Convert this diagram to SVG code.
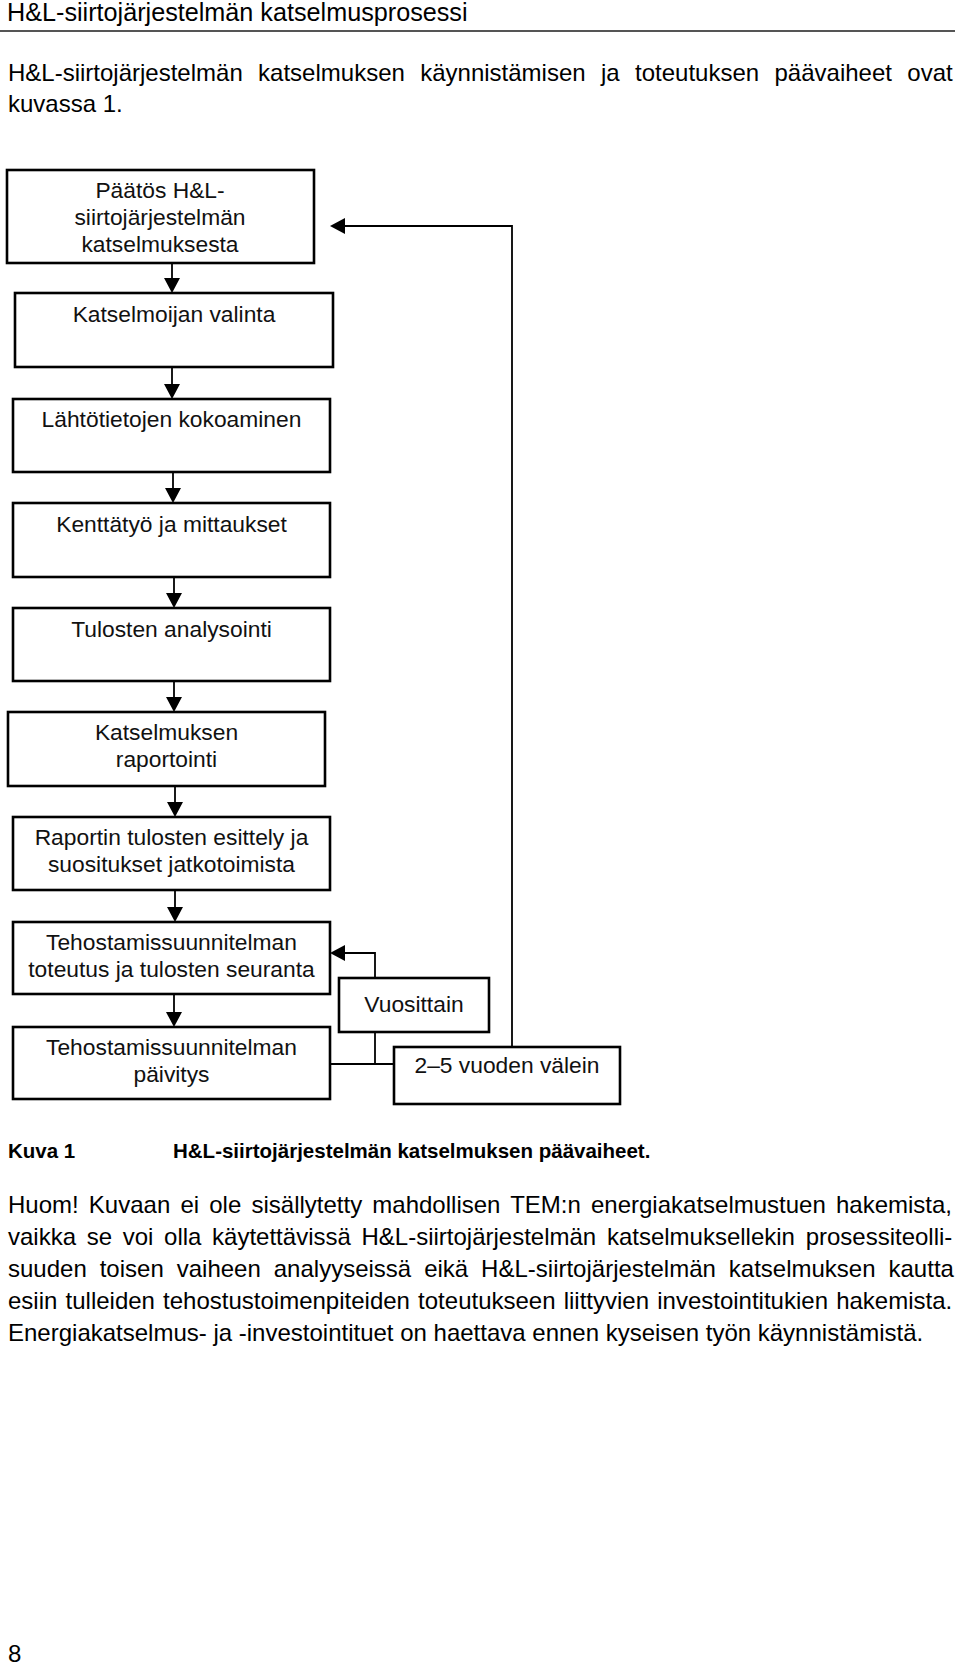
<svg xmlns="http://www.w3.org/2000/svg" width="960" height="1668" viewBox="0 0 960 1668">
<style>
  text { font-family: "Liberation Sans", Arial, sans-serif; fill: #000; }
  .title { font-size: 25.2px; }
  .para { font-size: 24px; }
  .box { fill: #fff; stroke: #000; stroke-width: 2.6; }
  .lbl { font-size: 22.8px; text-anchor: middle; fill: #111; }
  .cap { font-size: 20.5px; font-weight: bold; }
  .conn { fill: none; stroke: #000; stroke-width: 1.8; }
</style>
<defs>
  <marker id="ah" markerUnits="userSpaceOnUse" markerWidth="15" markerHeight="16" viewBox="0 0 15 16" refX="13" refY="8" orient="auto">
    <path d="M0,0 L15,8 L0,16 z" fill="#000"/>
  </marker>
</defs>
<rect width="960" height="1668" fill="#fff"/>

<text class="title" x="7" y="21">H&amp;L-siirtojärjestelmän katselmusprosessi</text>
<line x1="0" y1="31" x2="955" y2="31" stroke="#555" stroke-width="2"/>

<text class="para" x="8" y="81" word-spacing="8.7">H&amp;L-siirtojärjestelmän katselmuksen käynnistämisen ja toteutuksen päävaiheet ovat</text>
<text class="para" x="8" y="112">kuvassa 1.</text>

<g id="n1"><rect class="box" x="7" y="170" width="307" height="93"/>
<text class="lbl" x="160" y="198">Päätös H&amp;L-</text>
<text class="lbl" x="160" y="225">siirtojärjestelmän</text>
<text class="lbl" x="160" y="252">katselmuksesta</text></g>

<g id="n2"><rect class="box" x="15" y="293" width="318" height="74"/>
<text class="lbl" x="174" y="322">Katselmoijan valinta</text></g>

<g id="n3"><rect class="box" x="13" y="399" width="317" height="73"/>
<text class="lbl" x="171.5" y="427">Lähtötietojen kokoaminen</text></g>

<g id="n4"><rect class="box" x="13" y="503" width="317" height="74"/>
<text class="lbl" x="171.5" y="532">Kenttätyö ja mittaukset</text></g>

<g id="n5"><rect class="box" x="13" y="608" width="317" height="73"/>
<text class="lbl" x="171.5" y="637">Tulosten analysointi</text></g>

<g id="n6"><rect class="box" x="8" y="712" width="317" height="74"/>
<text class="lbl" x="166.5" y="740">Katselmuksen</text>
<text class="lbl" x="166.5" y="767">raportointi</text></g>

<g id="n7"><rect class="box" x="13" y="817" width="317" height="73"/>
<text class="lbl" x="171.5" y="845">Raportin tulosten esittely ja</text>
<text class="lbl" x="171.5" y="872">suositukset jatkotoimista</text></g>

<g id="n8"><rect class="box" x="13" y="922" width="317" height="72"/>
<text class="lbl" x="171.5" y="950">Tehostamissuunnitelman</text>
<text class="lbl" x="171.5" y="977">toteutus ja tulosten seuranta</text></g>

<g id="n9"><rect class="box" x="13" y="1027" width="317" height="72"/>
<text class="lbl" x="171.5" y="1055">Tehostamissuunnitelman</text>
<text class="lbl" x="171.5" y="1082">päivitys</text></g>

<g id="n10"><rect class="box" x="339" y="978" width="150" height="54"/>
<text class="lbl" x="414" y="1012">Vuosittain</text></g>

<g id="n11"><rect class="box" x="394" y="1047" width="226" height="57"/>
<text class="lbl" x="507" y="1073">2–5 vuoden välein</text></g>

<g id="connectors">
  <path class="conn" d="M172,263 V291" marker-end="url(#ah)"/>
  <path class="conn" d="M172,367 V397" marker-end="url(#ah)"/>
  <path class="conn" d="M173,472 V501" marker-end="url(#ah)"/>
  <path class="conn" d="M174,577 V606" marker-end="url(#ah)"/>
  <path class="conn" d="M174,681 V710" marker-end="url(#ah)"/>
  <path class="conn" d="M175,786 V815" marker-end="url(#ah)"/>
  <path class="conn" d="M175,890 V920" marker-end="url(#ah)"/>
  <path class="conn" d="M174,994 V1025" marker-end="url(#ah)"/>
  <path class="conn" d="M512,1047 V226 H332" marker-end="url(#ah)"/>
  <path class="conn" d="M375,978 V953 H332" marker-end="url(#ah)"/>
  <path class="conn" d="M375,1032 V1064"/>
  <path class="conn" d="M330,1064 H394"/>
</g>

<text class="cap" x="8" y="1158">Kuva 1</text>
<text class="cap" x="173" y="1158">H&amp;L-siirtojärjestelmän katselmuksen päävaiheet.</text>

<text class="para" x="8" y="1213" word-spacing="3.5">Huom! Kuvaan ei ole sisällytetty mahdollisen TEM:n energiakatselmustuen hakemista,</text>
<text class="para" x="8" y="1245" word-spacing="4">vaikka se voi olla käytettävissä H&amp;L-siirtojärjestelmän katselmuksellekin prosessiteolli-</text>
<text class="para" x="8" y="1277" word-spacing="6.3">suuden toisen vaiheen analyyseissä eikä H&amp;L-siirtojärjestelmän katselmuksen kautta</text>
<text class="para" x="8" y="1309" word-spacing="1.5">esiin tulleiden tehostustoimenpiteiden toteutukseen liittyvien investointitukien hakemista.</text>
<text class="para" x="8" y="1341">Energiakatselmus- ja -investointituet on haettava ennen kyseisen työn käynnistämistä.</text>

<text class="para" x="8" y="1662">8</text>
</svg>
